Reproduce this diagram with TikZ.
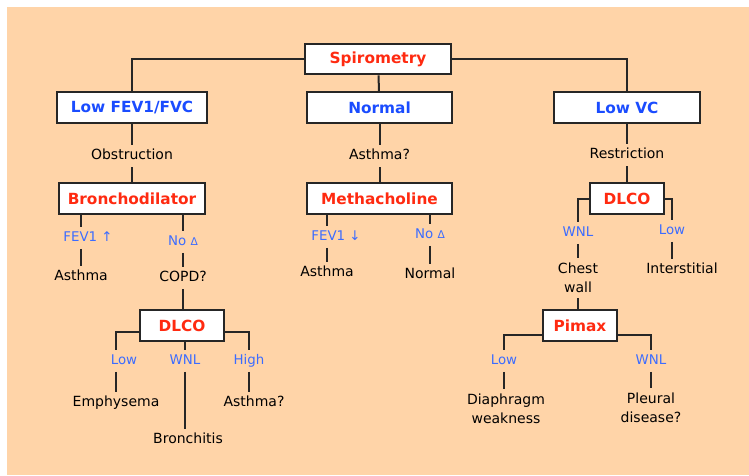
\documentclass[tikz,border=0pt]{standalone}
\usepackage{fontspec}
\setmainfont{DejaVu Sans}
\usetikzlibrary{positioning}
\definecolor{peach}{HTML}{FFD4A8}
\colorlet{rule}{black!85}
\definecolor{accR}{HTML}{FF2A10}
\definecolor{accB}{HTML}{1A4CFF}
\definecolor{accL}{HTML}{3C6CFF}
\newcommand{\dlt}{{\fontsize{8}{8}\selectfont Δ}}
\tikzset{
  card/.style   ={draw=rule, fill=white, line width=1.5pt, minimum height=23pt,
                  inner sep=0pt, font=\bfseries\fontsize{11.5}{13}\selectfont},
  Lfind/.style  ={card, text=accB, minimum width=109pt},
  Ltest/.style  ={card, text=accR, minimum width=109pt},
  Lsmall/.style ={card, text=accR},
  branch/.style ={text=accL, font=\fontsize{10}{12}\selectfont, text height=7pt,
                  text depth=2pt, inner xsep=1pt, inner ysep=3.5pt},
  dx/.style     ={font=\fontsize{10.5}{12.5}\selectfont, text height=7.5pt,
                  text depth=2pt, inner xsep=1pt, inner ysep=3.5pt},
  dx2/.style    ={font=\fontsize{10.5}{14.5}\selectfont, align=center, inner sep=3.5pt},
  contain/.style={-, rule, line width=1.5pt},
}
\begin{document}
\begin{tikzpicture}[x=0.75pt, y=-0.75pt]
\useasboundingbox (0,0) rectangle (749,475);
\fill[peach] (7,7) rectangle (749,475);

\node[Ltest] (spiro) at (378,59) {Spirometry};
\node[Lfind, minimum width=113pt] (lowfev) at (132,107.5) {Low FEV1/FVC};
\node[Lfind] (normal) at (379.5,107.5) {Normal};
\node[Lfind] (lowvc) at (627,107.5) {Low VC};
\draw[contain] (lowfev) |- (spiro);
\draw[contain] (lowvc) |- (spiro);
\draw[contain] (spiro) -- (normal);

% obstruction
\node[dx] (obstr) at (132,156) {Obstruction};
\node[Ltest] (broncho) at (132,198.5) {Bronchodilator};
\draw[contain] (lowfev) -- (obstr) -- (broncho);
\node[branch] (fevup) at (88,238) {FEV1 ↑};
\node[dx] (asth1) at (81,277) {Asthma};
\draw[contain] (broncho.south -| asth1) -- (fevup.north -| asth1)
  (fevup.south -| asth1) -- (asth1);
\node[branch] (nochg1) at (183,242) {No \dlt};
\node[dx] (copd) at (183,278) {COPD?};
\draw[contain] (broncho.south -| copd) -- (nochg1) -- (copd);
\node[Lsmall, minimum width=63pt] (dlco1) at (182,325.5) {DLCO};
\draw[contain] (copd) -- (dlco1.north -| copd);
\node[branch] (low1) at (124,361) {Low};
\node[dx] (emph) at (116,403) {Emphysema};
\draw[contain] ([yshift=-5pt]dlco1.west) -| (low1.north -| emph)
  (low1.south -| emph) -- (emph);
\node[branch] (wnl1) at (185,361) {WNL};
\node[dx] (bronch) at (188,440) {Bronchitis};
\draw[contain] (dlco1.south -| wnl1) -- (wnl1) -- (bronch.north -| wnl1);
\node[branch] (high1) at (249,361) {High};
\node[dx] (asth2) at (254,403) {Asthma?};
\draw[contain] ([yshift=-5pt]dlco1.east) -| (high1) -- (asth2.north -| high1);

% normal
\node[dx] (asthq) at (379.5,156) {Asthma?};
\node[Ltest] (metha) at (379.5,198.5) {Methacholine};
\draw[contain] (normal) -- (asthq) -- (metha);
\node[branch] (fevdn) at (336,237) {FEV1 ↓};
\node[dx] (asth3) at (327,273) {Asthma};
\draw[contain] (metha.south -| asth3) -- (fevdn.north -| asth3)
  (fevdn.south -| asth3) -- (asth3);
\node[branch] (nochg2) at (430,235) {No \dlt};
\node[dx] (norm2) at (430,275) {Normal};
\draw[contain] (metha.south -| nochg2) -- (nochg2) -- (norm2);

% restriction
\node[dx] (restr) at (627,155) {Restriction};
\node[Lsmall, minimum width=55pt] (dlco2) at (627,198.5) {DLCO};
\draw[contain] (lowvc) -- (restr) -- (dlco2);
\node[branch] (wnl2) at (578,233) {WNL};
\node[dx2] (chest) at (578,278) {Chest\\wall};
\draw[contain] (dlco2.west) -| (wnl2) -- (chest);
\node[branch] (low2) at (672,231) {Low};
\node[dx] (inter) at (682,270) {Interstitial};
\draw[contain] (dlco2.east) -| (low2) -- (inter.north -| low2);
\node[Lsmall, minimum width=56pt] (pimax) at (580,325.5) {Pimax};
\draw[contain] (chest) -- (pimax.north -| chest);
\node[branch] (low3) at (504,361) {Low};
\node[dx2] (diaph) at (506,409) {Diaphragm\\weakness};
\draw[contain] ([yshift=-7pt]pimax.west) -| (low3) -- (diaph.north -| low3);
\node[branch] (wnl3) at (651,361) {WNL};
\node[dx2] (pleur) at (651,408) {Pleural\\disease?};
\draw[contain] ([yshift=-7pt]pimax.east) -| (wnl3) -- (pleur);
\end{tikzpicture}
\end{document}
